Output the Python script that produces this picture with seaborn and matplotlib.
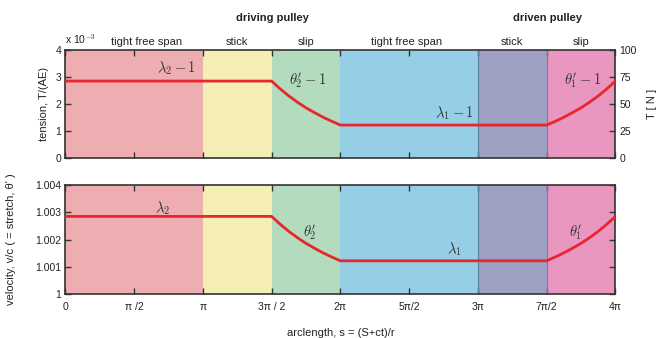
import numpy as np
import pandas as pd
import matplotlib
matplotlib.use("Agg")
import matplotlib.pyplot as plt
import seaborn as sns

# Belt regions along the arclength (boundaries in units of pi)
region_edges = [0, 1, 1.5, 2, 3, 3.5, 4]
region_names = ["tight free span", "stick", "slip", "tight free span", "stick", "slip"]
region_colors = ["#EEADB1", "#F5EFB6", "#B3DBBE", "#96CFE5", "#9EA0C4", "#E996C0"]
region_label_x = [0.59, 1.25, 1.75, 2.48, 3.25, 3.75]

pulley_names = ["driving pulley", "driven pulley"]
pulley_label_x = [1.5, 3.5]

# Strain lambda-1 (x 1e-3) sampled along the belt, s in units of pi
s_pi = [0.0, 1.5, 1.5625, 1.625, 1.6875, 1.75, 1.8125, 1.875, 1.9375, 2.0,
        3.5, 3.5625, 3.625, 3.6875, 3.75, 3.8125, 3.875, 3.9375, 4.0]
strain_e3 = [2.85, 2.85, 2.56, 2.30, 2.07, 1.86, 1.68, 1.51, 1.36, 1.22,
             1.22, 1.36, 1.51, 1.68, 1.86, 2.07, 2.30, 2.56, 2.85]

x_tick_pi = [0, 0.5, 1, 1.5, 2, 2.5, 3, 3.5, 4]
x_tick_labels = ["0", "π /2", "π", "3π / 2", "2π", "5π/2", "3π", "7π/2", "4π"]

top_ticks = [0, 1, 2, 3, 4]
right_ticks = [0, 25, 50, 75, 100]
bottom_ticks = [1.0, 1.001, 1.002, 1.003, 1.004]
bottom_tick_labels = ["1", "1.001", "1.002", "1.003", "1.004"]

# Curve annotations: (text, s in pi, value)
top_notes = [(r"$\lambda_2-1$", 0.81, 3.33), (r"$\theta_2^{\prime}-1$", 1.76, 2.9),
             (r"$\lambda_1-1$", 2.83, 1.67), (r"$\theta_1^{\prime}-1$", 3.76, 2.9)]
bottom_notes = [(r"$\lambda_2$", 0.71, 1.00316), (r"$\theta_2^{\prime}$", 1.78, 1.00228),
                (r"$\lambda_1$", 2.83, 1.00165), (r"$\theta_1^{\prime}$", 3.71, 1.00228)]

sns.set_theme(style="ticks")
plt.rcParams["font.family"] = ["Liberation Sans", "DejaVu Sans"]
plt.rcParams["mathtext.fontset"] = "cm"

df = pd.DataFrame({"s": np.array(s_pi) * np.pi, "strain": strain_e3})
df["velocity"] = 1.0 + df["strain"] * 1e-3

fig = plt.figure(figsize=(6.7, 3.38), dpi=100)
ax_t = fig.add_axes([0.0975, 0.5325, 0.821, 0.3195])
ax_b = fig.add_axes([0.0975, 0.130, 0.821, 0.3225])

red = "#E8262C"
edge_col = "#333333"
for ax in (ax_t, ax_b):
    for i, c in enumerate(region_colors):
        ax.axvspan(region_edges[i] * np.pi, region_edges[i + 1] * np.pi,
                   color=c, lw=0, zorder=0)
    ax.axvline(3 * np.pi, color="#5a7fa0", lw=0.8, zorder=1)
    ax.axvline(3.5 * np.pi, color="#a06a9a", lw=0.8, zorder=1)
    ax.set_xlim(0, 4 * np.pi)
    ax.set_xticks(np.array(x_tick_pi) * np.pi)
    ax.tick_params(axis="both", direction="in", length=4, width=1.0,
                   colors=edge_col, labelcolor="#222222", labelsize=7.5,
                   top=True, pad=3)
    for sp in ax.spines.values():
        sp.set_color(edge_col)
        sp.set_linewidth(1.2)

sns.lineplot(data=df, x="s", y="strain", ax=ax_t, color=red, lw=2, sort=False, zorder=3)
sns.lineplot(data=df, x="s", y="velocity", ax=ax_b, color=red, lw=2, sort=False, zorder=3)

# top panel
ax_t.set_ylim(0, 4)
ax_t.set_yticks(top_ticks)
ax_t.set_xticklabels([])
ax_t.set_xlabel("")
ax_t.set_ylabel("tension, T/(AE)", fontsize=8, color="#222222")
ax_t.yaxis.set_label_coords(-0.03, 0.5)
ax_t.tick_params(axis="y", right=False)
ax_t.text(0.0, 1.04, r"x 10$^{-3}$", transform=ax_t.transAxes, fontsize=7.5,
          ha="left", va="bottom", color="#222222")

ax_r = ax_t.twinx()
ax_r.set_ylim(0, 100)
ax_r.set_yticks(right_ticks)
ax_r.tick_params(axis="y", direction="in", length=4, width=1.0, colors=edge_col,
                 labelcolor="#222222", labelsize=7.5, pad=3)
ax_r.set_ylabel("T [ N ]", fontsize=8, color="#222222", rotation=90)
ax_r.yaxis.set_label_coords(1.058, 0.5)
for sp in ax_r.spines.values():
    sp.set_visible(False)

for txt, xs, yv in top_notes:
    ax_t.text(xs * np.pi, yv, txt, fontsize=10.5, ha="center", va="center", color="#333333", zorder=4)

# bottom panel
ax_b.set_ylim(1.0, 1.004)
ax_b.set_yticks(bottom_ticks)
ax_b.set_yticklabels(bottom_tick_labels)
ax_b.tick_params(axis="y", right=True)
ax_b.set_xticklabels(x_tick_labels)
ax_b.tick_params(axis="x", pad=6)
ax_b.set_ylabel("velocity, v/c ( = stretch, θ' )", fontsize=8, color="#222222")
ax_b.yaxis.set_label_coords(-0.09, 0.5)
ax_b.set_xlabel("arclength, s = (S+ct)/r", fontsize=8, color="#222222", labelpad=11)

for txt, xs, yv in bottom_notes:
    ax_b.text(xs * np.pi, yv, txt, fontsize=10.5, ha="center", va="center", color="#333333", zorder=4)

# region and pulley headers
for name, xs in zip(region_names, region_label_x):
    ax_t.text(xs * np.pi, 4.3, name, fontsize=8, ha="center", va="center",
              color="#222222", clip_on=False)
for name, xs in zip(pulley_names, pulley_label_x):
    ax_t.text(xs * np.pi + 0.02, 5.2, name, fontsize=8, fontweight="bold",
              ha="center", va="center", color="#222222", clip_on=False)

fig.savefig("out.png", dpi=100)
